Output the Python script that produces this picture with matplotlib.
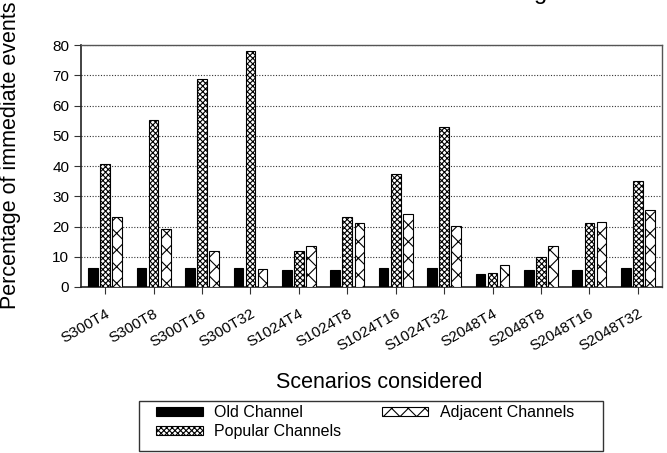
import numpy as np
import matplotlib
matplotlib.use("Agg")
import matplotlib.pyplot as plt
from matplotlib.patches import Rectangle

# scenario names and the three series (percent)
scenarios = ["S300T4", "S300T8", "S300T16", "S300T32",
             "S1024T4", "S1024T8", "S1024T16", "S1024T32",
             "S2048T4", "S2048T8", "S2048T16", "S2048T32"]
old_channel = [6.4, 6.4, 6.4, 6.4, 5.7, 5.7, 6.4, 6.4, 4.4, 5.6, 5.6, 6.4]
popular_channels = [40.6, 55.2, 68.7, 78.0, 12.0, 23.0, 37.5, 52.8, 4.7, 10.0, 21.0, 35.2]
adjacent_channels = [23.0, 19.3, 12.0, 5.8, 13.7, 21.1, 24.1, 20.3, 7.2, 13.7, 21.6, 25.3]
series_names = ["Old Channel", "Popular Channels", "Adjacent Channels"]
y_ticks = [0, 10, 20, 30, 40, 50, 60, 70, 80]


def main():
    plt.rcParams['font.family'] = ['Liberation Sans', 'DejaVu Sans']
    plt.rcParams['hatch.linewidth'] = 0.8

    W, H = 667, 453
    fig = plt.figure(figsize=(W / 100, H / 100), dpi=100)
    ax = fig.add_axes([81 / W, 1 - 287 / H, (662 - 81) / W, (287 - 45) / H])

    pos = np.arange(len(scenarios))
    width = 0.2
    step = 0.25

    b1 = ax.bar(pos - step, old_channel, width, color='black',
                edgecolor='black', linewidth=0.8, zorder=3)
    b2 = ax.bar(pos, popular_channels, width, color='white',
                edgecolor='black', hatch='xxxxxx', linewidth=0.8, zorder=3)
    b3 = ax.bar(pos + step, adjacent_channels, width, color='white',
                edgecolor='black', hatch='xx', linewidth=0.8, zorder=3)

    ax.set_xlim(-0.5, len(scenarios) - 0.5)
    ax.set_ylim(0, 80)
    ax.set_yticks(y_ticks)
    ax.set_xticks(pos)
    ax.set_xticklabels(scenarios, rotation=30, ha='right',
                       rotation_mode='anchor', fontsize=11)
    ax.tick_params(axis='y', labelsize=11, length=5, width=0.8, color='#333333')
    ax.tick_params(axis='x', length=5, width=0.8, pad=9, color='#333333')
    ax.yaxis.grid(True, linestyle=(0, (1, 1.5)), color='#333333',
                  linewidth=0.8, zorder=0)
    ax.set_axisbelow(True)
    for side in ['left', 'bottom']:
        ax.spines[side].set_color('#222222')
        ax.spines[side].set_linewidth(1.2)
    for side in ['top', 'right']:
        ax.spines[side].set_color('#555555')
        ax.spines[side].set_linewidth(1.0)

    fig.text(11 / W, 1 - 155 / H, "Percentage of immediate events",
             rotation=90, ha='center', va='center', fontsize=15.5)
    fig.text(379 / W, 1 - 382 / H, "Scenarios considered",
             ha='center', va='center', fontsize=15.5)
    # title cut off at the top edge, only the descender shows
    fig.text(541 / W, 1.0 + 1 / H, "g", ha='center', va='baseline', fontsize=17)

    fig.legend([b1, b2, b3], series_names, ncol=2,
               loc='upper left', bbox_to_anchor=(145 / W, 1 - 394 / H),
               frameon=False, fontsize=11.5, handlelength=2.9,
               handleheight=0.45, handletextpad=0.75,
               columnspacing=2.5, labelspacing=0.25, borderpad=0.2)
    fig.patches.append(Rectangle((139 / W, 1 - 451 / H), (603 - 139) / W,
                                 50 / H, transform=fig.transFigure,
                                 fill=False, edgecolor='#333333', linewidth=1.0))

    fig.savefig("out.png", dpi=100)


if __name__ == "__main__":
    main()
